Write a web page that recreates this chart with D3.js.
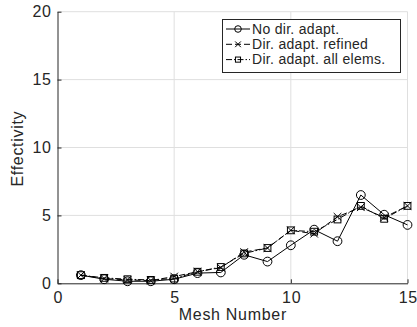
<!DOCTYPE html>
<html>
<head>
<meta charset="utf-8">
<script src="https://cdn.jsdelivr.net/npm/d3@7"></script>
<style>
  body { margin: 0; background: #fff; }
  text { font-family: "Liberation Sans", Arial, Helvetica, sans-serif; fill: #262626; }
</style>
</head>
<body>
<div id="chart"></div>
<script>
// mesh numbers and effectivity values
const meshes = [1, 2, 3, 4, 5, 6, 7, 8, 9, 10, 11, 12, 13, 14, 15];
const noDirAdapt = [0.6, 0.3, 0.15, 0.15, 0.3, 0.75, 0.8, 2.1, 1.6, 2.8, 3.95, 3.1, 6.5, 5.05, 4.3];
const dirRefined = [0.6, 0.35, 0.25, 0.2, 0.5, 0.85, 1.15, 2.3, 2.6, 3.9, 3.65, 4.9, 5.6, 4.85, 5.7];
const dirAllElems = [0.6, 0.4, 0.3, 0.25, 0.35, 0.85, 1.2, 2.2, 2.6, 3.9, 3.8, 4.7, 5.7, 4.75, 5.7];
const legendLabels = ["No dir. adapt.", "Dir. adapt. refined", "Dir. adapt. all elems."];
const xTicks = [0, 5, 10, 15];
const yTicks = [0, 5, 10, 15, 20];

const width = 417, height = 327;
const plotLeft = 57.5, plotRight = 407.5, plotTop = 11.7, plotBottom = 283.3;
const spacing = 0.7; // reference text runs a bit wider than Liberation Sans
const fontSize = 16;

const svg = d3.select("#chart").append("svg")
    .attr("width", width)
    .attr("height", height);

const x = d3.scaleLinear().domain([0, 15]).range([plotLeft, plotRight]);
const y = d3.scaleLinear().domain([0, 20]).range([plotBottom, plotTop]);

// grid
svg.append("g").selectAll("line").data(xTicks.slice(1)).enter().append("line")
    .attr("x1", d => x(d)).attr("x2", d => x(d))
    .attr("y1", plotTop).attr("y2", plotBottom)
    .attr("stroke", "#dfdfdf").attr("stroke-width", 1);
svg.append("g").selectAll("line").data(yTicks.slice(1)).enter().append("line")
    .attr("x1", plotLeft).attr("x2", plotRight)
    .attr("y1", d => y(d)).attr("y2", d => y(d))
    .attr("stroke", "#dfdfdf").attr("stroke-width", 1);

// axes (ticks inside, like matlab)
const xAxis = svg.append("g")
    .attr("transform", `translate(0,${plotBottom})`)
    .call(d3.axisBottom(x).tickValues(xTicks).tickSizeInner(-4).tickSizeOuter(0).tickPadding(8));
const yAxis = svg.append("g")
    .attr("transform", `translate(${plotLeft},0)`)
    .call(d3.axisLeft(y).tickValues(yTicks).tickSizeInner(-4).tickSizeOuter(0).tickPadding(5.8));

[xAxis, yAxis].forEach(g => {
    g.select(".domain").attr("stroke", "#262626").attr("stroke-width", 1);
    g.selectAll(".tick line").attr("stroke", "#262626");
    g.selectAll(".tick text")
        .attr("font-size", fontSize)
        .attr("letter-spacing", spacing)
        .attr("font-family", "Liberation Sans, Arial, sans-serif")
        .attr("fill", "#262626");
});
xAxis.selectAll(".tick text").attr("dx", spacing / 2);

// axis labels
svg.append("text")
    .attr("x", (plotLeft + plotRight) / 2 + spacing / 2)
    .attr("y", 320)
    .attr("text-anchor", "middle")
    .attr("font-size", fontSize)
    .attr("letter-spacing", spacing)
    .text("Mesh Number");

svg.append("text")
    .attr("transform", `translate(23,${149 - spacing / 2}) rotate(-90)`)
    .attr("text-anchor", "middle")
    .attr("font-size", fontSize)
    .attr("letter-spacing", spacing)
    .text("Effectivity");

// series
const series = [
    { values: noDirAdapt, dash: null, marker: "circle" },
    { values: dirRefined, dash: "6,3", marker: "x" },
    { values: dirAllElems, dash: "6,2,1.5,2", marker: "square" }
];

function drawMarker(g, type, cx, cy, k) {
    if (type === "circle") {
        g.append("circle")
            .attr("cx", cx).attr("cy", cy).attr("r", 4.4 * k)
            .attr("fill", "none").attr("stroke", "black").attr("stroke-width", 1);
    } else if (type === "x") {
        const s = 3.8 * k;
        g.append("path")
            .attr("d", `M${cx - s},${cy - s}L${cx + s},${cy + s}M${cx - s},${cy + s}L${cx + s},${cy - s}`)
            .attr("stroke", "black").attr("stroke-width", 1).attr("fill", "none");
    } else {
        const s = 3.4 * k;
        g.append("rect")
            .attr("x", cx - s).attr("y", cy - s)
            .attr("width", 2 * s).attr("height", 2 * s)
            .attr("fill", "none").attr("stroke", "black").attr("stroke-width", 1);
    }
}

const line = d3.line()
    .x((d, i) => x(meshes[i]))
    .y(d => y(d));

series.forEach(s => {
    const g = svg.append("g");
    g.append("path")
        .attr("d", line(s.values))
        .attr("fill", "none")
        .attr("stroke", "black")
        .attr("stroke-width", 1)
        .attr("stroke-dasharray", s.dash);
    s.values.forEach((v, i) => drawMarker(g, s.marker, x(meshes[i]), y(v), 1));
});

// legend
const legend = svg.append("g");
legend.append("rect")
    .attr("x", 222.5).attr("y", 19.5)
    .attr("width", 178).attr("height", 53)
    .attr("fill", "white")
    .attr("stroke", "#262626")
    .attr("stroke-width", 1);

legendLabels.forEach((label, i) => {
    const ly = 29 + i * 15.3;
    legend.append("line")
        .attr("x1", 226).attr("x2", 250)
        .attr("y1", ly).attr("y2", ly)
        .attr("stroke", "black")
        .attr("stroke-dasharray", series[i].dash);
    drawMarker(legend, series[i].marker, 238, ly, 0.75);
    legend.append("text")
        .attr("x", 252)
        .attr("y", ly + 4.8)
        .attr("font-size", 14)
        .attr("letter-spacing", 0.3)
        .attr("fill", "black")
        .text(label);
});
</script>
</body>
</html>
